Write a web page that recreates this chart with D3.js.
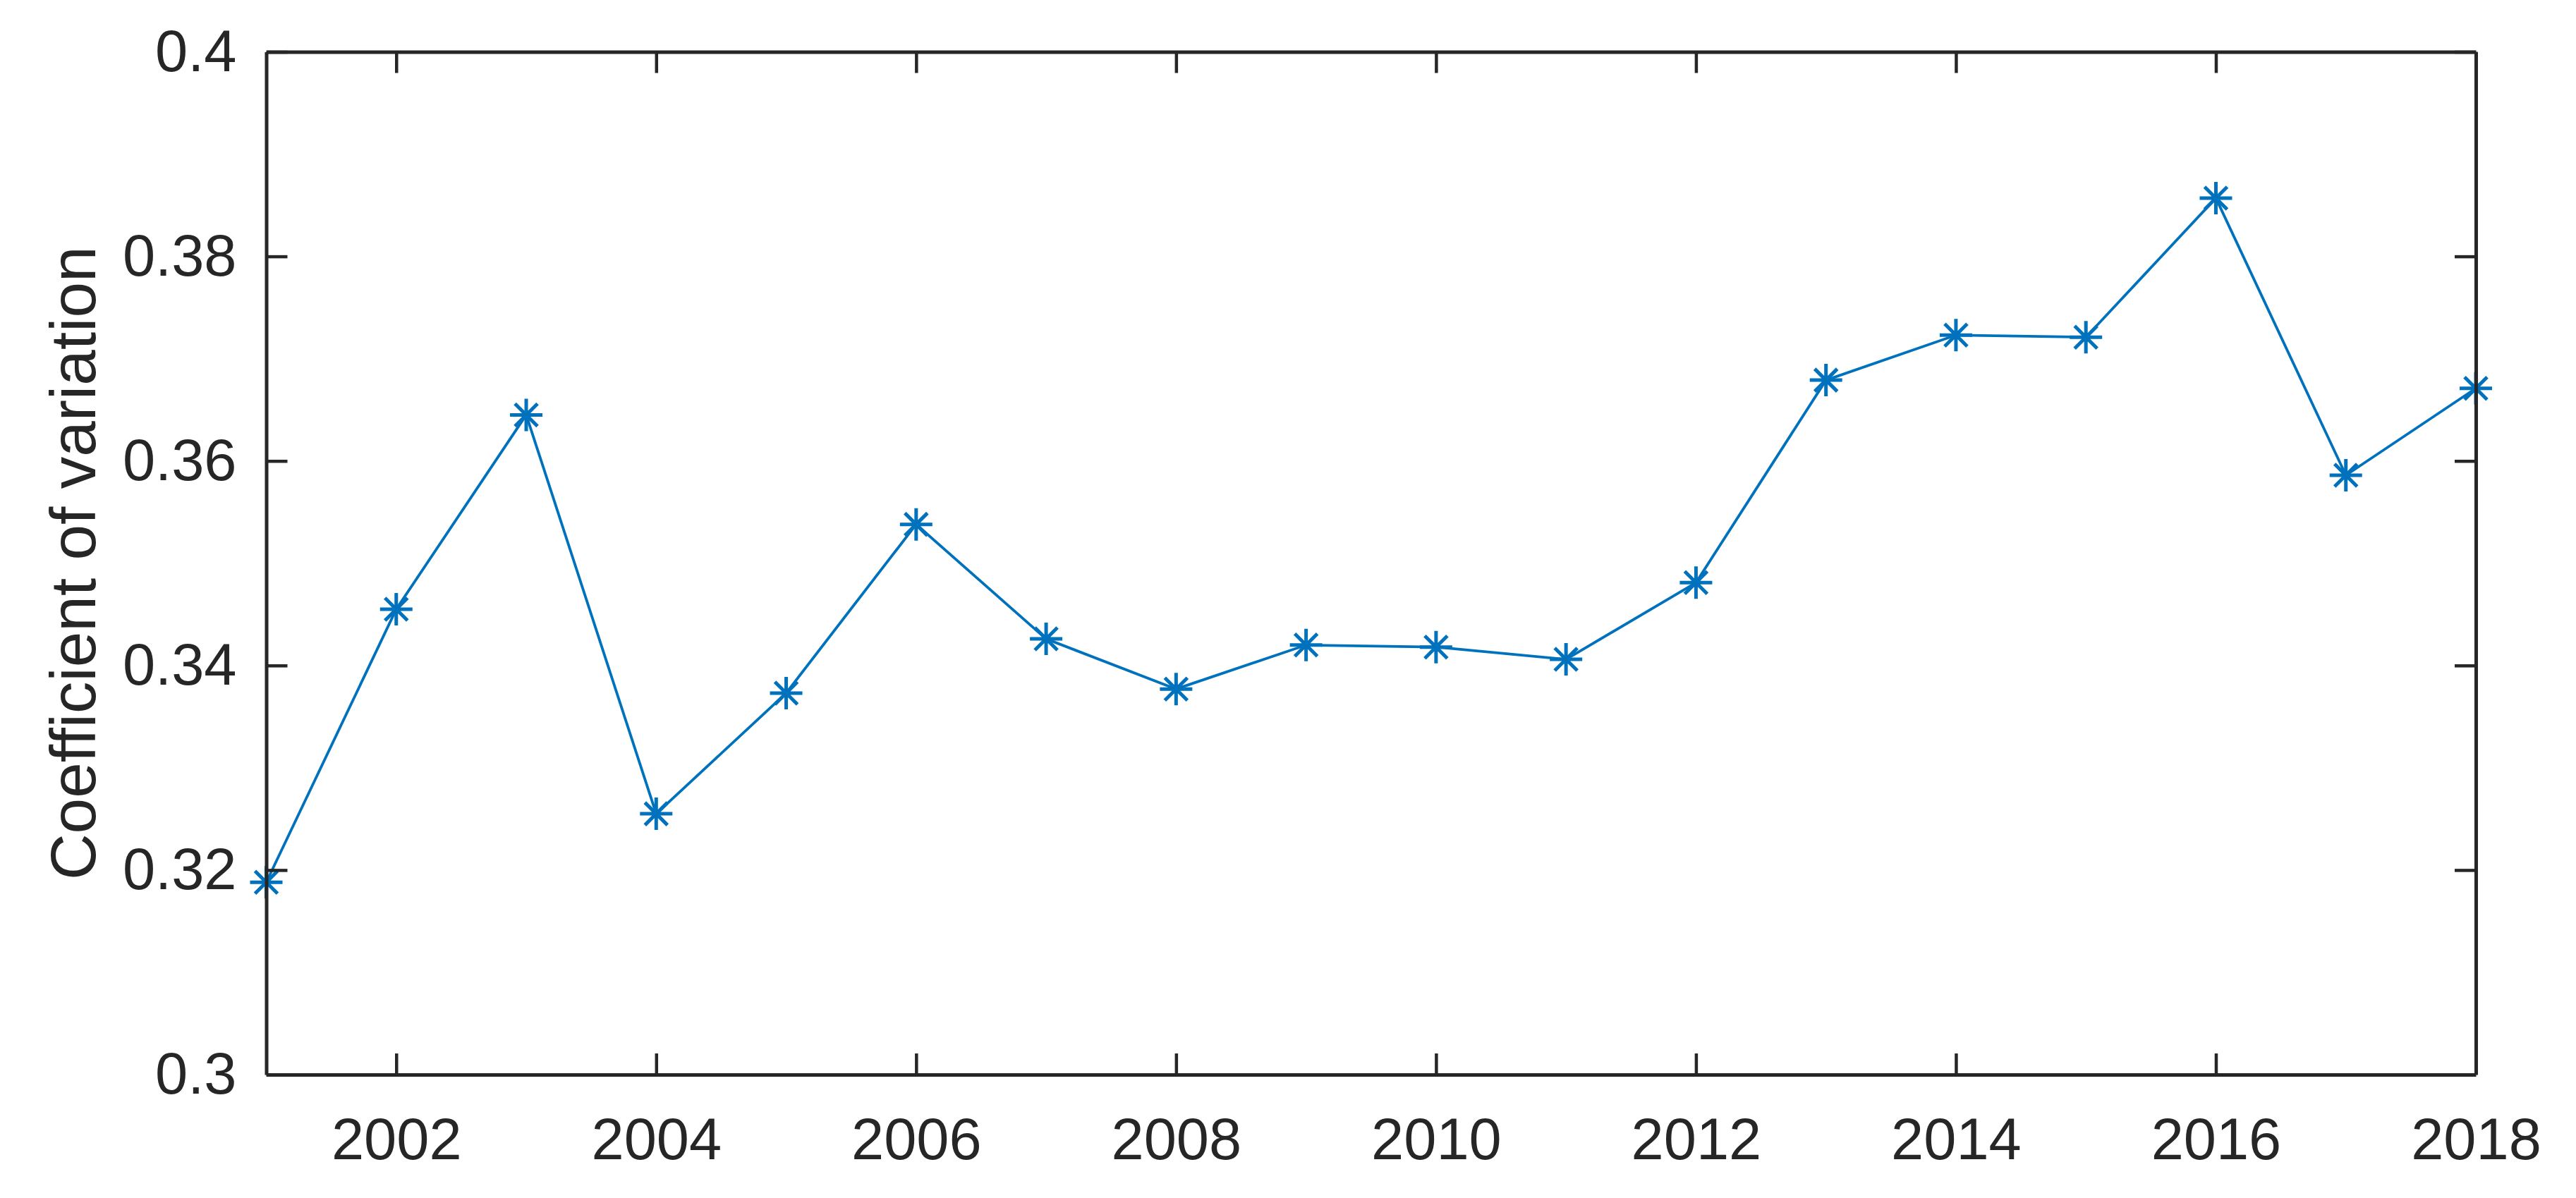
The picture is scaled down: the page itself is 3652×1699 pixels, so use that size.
<!DOCTYPE html>
<html>
<head>
<meta charset="utf-8">
<script src="https://cdn.jsdelivr.net/npm/d3@7"></script>
<style>
  html, body { margin: 0; padding: 0; background: #fff; }
</style>
</head>
<body>
<div id="chart"></div>
<script>
var years = [2001, 2002, 2003, 2004, 2005, 2006, 2007, 2008, 2009,
             2010, 2011, 2012, 2013, 2014, 2015, 2016, 2017, 2018];
var cv = [0.3188, 0.3455, 0.3645, 0.3255, 0.3373, 0.3538, 0.3426, 0.3377, 0.3420,
          0.3418, 0.3406, 0.3481, 0.3679, 0.3723, 0.3721, 0.3857, 0.3586, 0.3671];
var xTicks = [2002, 2004, 2006, 2008, 2010, 2012, 2014, 2016, 2018];
var yTicks = [0.3, 0.32, 0.34, 0.36, 0.38, 0.4];
var yTickLabels = ['0.3', '0.32', '0.34', '0.36', '0.38', '0.4'];
var yLabel = 'Coefficient of variation';

var W = 3652, H = 1699;
var margin = { top: 73.5, right: 142, bottom: 175, left: 377.5 };
var width = W - margin.left - margin.right;
var height = H - margin.top - margin.bottom;
var ink = '#262626';
var blue = '#0072BD';
var font = '"Liberation Sans", Arial, Helvetica, sans-serif';

var x = d3.scaleLinear()
    .domain([2001, 2018])
    .range([0, width]);

var y = d3.scaleLinear()
    .domain([0.3, 0.4])
    .range([height, 0]);

var svg = d3.select('#chart').append('svg')
    .attr('width', W)
    .attr('height', H)
    .style('display', 'block');

var g = svg.append('g')
    .attr('transform', 'translate(' + margin.left + ',' + margin.top + ')');

// the line and asterisk markers
var line = d3.line()
    .x(function (d, i) { return x(years[i]); })
    .y(function (d) { return y(d); });

g.append('path')
    .datum(cv)
    .attr('d', line)
    .attr('fill', 'none')
    .attr('stroke', blue)
    .attr('stroke-width', 3.8);

var r = 23, rd = 16;
var star = 'M' + (-r) + ',0L' + r + ',0' +
           'M0,' + (-r) + 'L0,' + r +
           'M' + (-rd) + ',' + (-rd) + 'L' + rd + ',' + rd +
           'M' + (-rd) + ',' + rd + 'L' + rd + ',' + (-rd);

g.append('g').selectAll('path')
    .data(cv)
  .enter().append('path')
    .attr('transform', function (d, i) { return 'translate(' + x(years[i]) + ',' + y(d) + ')'; })
    .attr('d', star)
    .attr('fill', 'none')
    .attr('stroke', blue)
    .attr('stroke-width', 5);

// box axes with inward ticks
function styleAxis(sel) {
  sel.select('.domain')
    .attr('stroke', ink)
    .attr('stroke-width', 5);
  sel.selectAll('.tick line')
    .attr('stroke', ink)
    .attr('stroke-width', 4.5);
  sel.selectAll('.tick text')
    .attr('fill', ink)
    .style('font-family', font)
    .style('font-size', '83px');
}

g.append('g')
    .attr('transform', 'translate(0,' + height + ')')
    .call(d3.axisBottom(x)
      .tickValues(xTicks)
      .tickFormat(d3.format('d'))
      .tickSizeInner(-30)
      .tickSizeOuter(0)
      .tickPadding(61))
    .call(styleAxis);

g.append('g')
    .call(d3.axisTop(x)
      .tickValues(xTicks)
      .tickFormat('')
      .tickSizeInner(-30)
      .tickSizeOuter(0))
    .call(styleAxis);

g.append('g')
    .call(d3.axisLeft(y)
      .tickValues(yTicks)
      .tickFormat(function (d, i) { return yTickLabels[i]; })
      .tickSizeInner(-30)
      .tickSizeOuter(0)
      .tickPadding(42))
    .call(styleAxis);

g.append('g')
    .attr('transform', 'translate(' + width + ',0)')
    .call(d3.axisRight(y)
      .tickValues(yTicks)
      .tickFormat('')
      .tickSizeInner(-30)
      .tickSizeOuter(0))
    .call(styleAxis);

svg.append('text')
    .attr('transform', 'translate(135,' + (margin.top + height / 2) + ') rotate(-90)')
    .attr('text-anchor', 'middle')
    .attr('fill', ink)
    .style('font-family', font)
    .style('font-size', '91px')
    .text(yLabel);
</script>
</body>
</html>
